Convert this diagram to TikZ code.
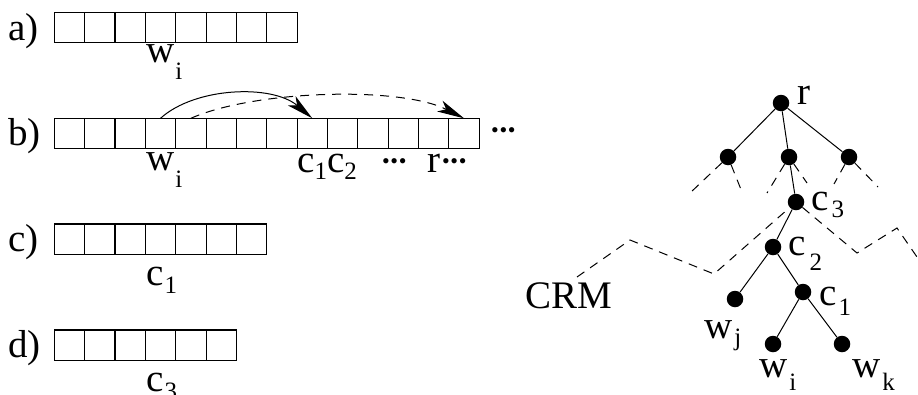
\documentclass[tikz,border=0pt]{standalone}
\usepackage{fontspec}
\setmainfont{Liberation Serif}
\usetikzlibrary{arrows.meta}
% lowered subscript: #1 text, #2 drop below baseline, #3 kern before it
\newcommand\subtxt[3]{\kern#3\raisebox{-#2}{\fontsize{25}{27}\selectfont #1}}
% three raised dots
\newcommand\threedots{\raisebox{4pt}{\fontsize{22}{24}\selectfont •\kern0.6pt•\kern0.6pt•}}

\begin{document}
\begin{tikzpicture}[x=1pt,y=-1pt,
  txt/.style={font=\fontsize{39}{41}\selectfont, inner sep=0pt, anchor=base west},
  cellrow/.style={line width=1.1pt},
  dot/.style={circle, fill=black, inner sep=0pt, minimum size=16.5pt},
  edge/.style={line width=1pt},
  stub/.style={line width=1pt, dash pattern=on 9pt off 7pt},
  link/.style={line width=1pt, -{Stealth[length=27pt,width=12pt,inset=7pt]}},
]
\useasboundingbox (0,0) rectangle (918,394);

% ---- the four arrays of cells ----
\def\cw{30.35}
\foreach \n/\top in {8/12.3, 14/118.3, 7/224, 6/330}{
  \foreach \i in {1,...,\n}{
    \draw[cellrow] ({54.3+\cw*(\i-1)},\top) rectangle ++(\cw,30.5);
  }
}

% row labels
\node[txt] (la) at (8,40)    {a)};
\node[txt] (lb) at (8,145.5) {b)};
\node[txt] (lc) at (8,251.5) {c)};
\node[txt] (ld) at (8,357.5) {d)};

% labels under the arrays
\node[txt] (wa) at (146,62)  {w\subtxt{i}{17pt}{1pt}};
\node[txt] (wb) at (146,170) {w\subtxt{i}{17pt}{1pt}};
\node[txt] (cb) at (297,172) {c\subtxt{1}{7pt}{0pt}c\subtxt{2}{7pt}{0pt}};
\node[txt] (db) at (382,172) {\threedots};
\node[txt] (rb) at (427,172) {r\kern2pt\threedots};
\node[txt] (tail) at (491,141) {\threedots};
\node[txt] (cc) at (146,285) {c\subtxt{1}{8pt}{1pt}};
\node[txt] (cd) at (146,391) {c\subtxt{3}{8pt}{1pt}};

% arrows along row b)
\coordinate (b4)  at ({54.3+\cw*3.5},118.3);
\coordinate (b5)  at ({54.3+\cw*4.5},118.3);
\coordinate (b9)  at ({54.3+\cw*8.5},118.3);
\coordinate (b14) at ({54.3+\cw*13.5},118.3);
\draw[link] (b4) .. controls (195,87) and (272,84) .. (b9);
\draw[link, dash pattern=on 9pt off 7pt] (b5) .. controls (255,90) and (400,86) .. (b14);

% ---- the tree ----
\node[dot] (r)  at (781,103) {};
\node[dot] (n1) at (728,157) {};
\node[dot] (n2) at (789,157) {};
\node[dot] (n3) at (849,157) {};
\node[dot] (c3) at (796,202) {};
\node[dot] (c2) at (773,247) {};
\node[dot] (wj) at (735,299) {};
\node[dot] (c1) at (803,292) {};
\node[dot] (wi) at (773,344) {};
\node[dot] (wk) at (842,344) {};

\draw[edge] (r) -- (n1);
\draw[edge] (r) -- (n2);
\draw[edge] (r) -- (n3);
\draw[edge] (n2) -- (c3);
\draw[edge] (c3) -- (c2);
\draw[edge] (c2) -- (wj);
\draw[edge] (c2) -- (c1);
\draw[edge] (c1) -- (wi);
\draw[edge] (c1) -- (wk);

% dashed subtrees hanging below the upper nodes
\coordinate (s1) at (690,193);
\coordinate (s2) at (742,192);
\coordinate (s3) at (767,193);
\coordinate (s4) at (807,183);
\coordinate (s5) at (834,184);
\coordinate (s6) at (878,187);
\draw[stub] (n1) -- (s1);
\draw[stub] (n1) -- (s2);
\draw[stub] (n2) -- (s3);
\draw[stub] (n2) -- (s4);
\draw[stub] (n3) -- (s5);
\draw[stub] (n3) -- (s6);

% dashed boundary of the CRM
\coordinate (k1) at (577,277);
\coordinate (k2) at (630,240);
\coordinate (k3) at (714,274);
\coordinate (k4) at (857,253);
\coordinate (k5) at (897,228);
\coordinate (k6) at (917,257);
\draw[stub] (k1) -- (k2) -- (k3) -- (c3);
\draw[stub] (c3) -- (k4) -- (k5) -- (k6);

% tree labels
\node[txt] (lr)  at (797,104) {r};
\node[txt] (lc3) at (811,210) {c\subtxt{3}{7pt}{3pt}};
\node[txt] (lc2) at (788,255) {c\subtxt{2}{15pt}{4pt}};
\node[txt] (lc1) at (819,305) {c\subtxt{1}{10pt}{2pt}};
\node[txt] (lwj) at (704,338) {w\subtxt{j}{7pt}{2pt}};
\node[txt] (lwi) at (759,377) {w\subtxt{i}{13pt}{2pt}};
\node[txt] (lwk) at (852,377) {w\subtxt{k}{13pt}{2pt}};
\node[txt] (crm) at (525,308) {CRM};
\end{tikzpicture}
\end{document}
